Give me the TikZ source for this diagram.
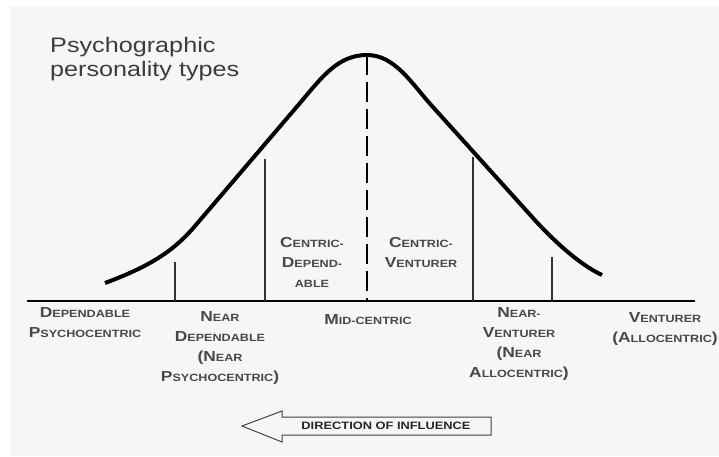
\documentclass[tikz,border=0pt]{standalone}
\usepackage{fontspec}
\setmainfont{Liberation Sans}
\newfontfamily\lblfont[FakeStretch=1.2]{Liberation Sans}
\definecolor{lbl}{RGB}{72,72,72}
\definecolor{titlegray}{RGB}{60,60,60}
\definecolor{paper}{RGB}{246,246,246}
\newcommand{\smc}[2]{{\fontsize{14.5}{20}\selectfont #1}{\fontsize{10.5}{20}\selectfont #2}}
\tikzset{
	lbl/.style={text=lbl, font=\lblfont\bfseries\fontsize{10.5}{20}\selectfont, align=center, inner sep=0pt},
	curve/.style={line width=4pt, line join=round},
	divider/.style={line width=1.1pt, black!80},
}
\begin{document}
\begin{tikzpicture}[x=1pt,y=-1pt]
	\useasboundingbox (0,0) rectangle (719,456);
	\fill[paper] (10,6) rectangle (719,456);
	\node[anchor=north west, align=left, inner sep=0pt, text=titlegray, font=\lblfont\fontsize{21}{24}\selectfont] (title) at (50,37) {Psychographic\\personality types};
	% axis and curve
	\coordinate (axl) at (27,301);
	\coordinate (axr) at (695,301);
	\draw[line width=2pt] (axl) -- (axr);
	\draw[curve] (105,283) .. controls (148,267) and (173,252) .. (195,226) -- (300,103)
		.. controls (322,77) and (338,55) .. (367,55)
		.. controls (395,55) and (412,84) .. (432,106) -- (533,218)
		.. controls (550,237) and (578,264) .. (602,275);
	\coordinate (peak) at (367,55);
	\draw[line width=2.5pt, dash pattern=on 20pt off 7pt] (peak) -- (367,301);
	\draw[divider] (175,262) -- (175,301);
	\draw[divider] (265,159) -- (265,301);
	\draw[divider] (473,157) -- (473,301);
	\draw[divider] (552,257) -- (552,301);
	% labels
	\node[lbl] (dep) at (85,323) {\smc{D}{EPENDABLE}\\\smc{P}{SYCHOCENTRIC}};
	\node[lbl] (neardep) at (220,348) {\smc{N}{EAR}\\\smc{D}{EPENDABLE}\\\smc{(N}{EAR}\\\smc{P}{SYCHOCENTRIC}\smc{)}{}};
	\node[lbl] (centdep) at (312,262) {\smc{C}{ENTRIC-}\\\smc{D}{EPEND-}\\\smc{}{ABLE}};
	\node[lbl] (mid) at (368,320) {\smc{M}{ID-CENTRIC}};
	\node[lbl] (centven) at (421,252) {\smc{C}{ENTRIC-}\\\smc{V}{ENTURER}};
	\node[lbl] (nearven) at (519,344) {\smc{N}{EAR-}\\\smc{V}{ENTURER}\\\smc{(N}{EAR}\\\smc{A}{LLOCENTRIC}\smc{)}{}};
	\node[lbl] (venturer) at (665,329) {\smc{V}{ENTURER}\\\smc{(A}{LLOCENTRIC}\smc{)}{}};
	% direction arrow
	\draw[line width=1pt, black!75, line join=miter] (242,426) -- (282,411) -- (282,417) -- (491,417) -- (491,435) -- (282,435) -- (282,442) -- cycle;
	\node[text=black!85, font=\lblfont\bfseries\fontsize{10.7}{12}\selectfont, inner sep=0pt] (influence) at (386,426) {DIRECTION OF INFLUENCE};
\end{tikzpicture}
\end{document}
